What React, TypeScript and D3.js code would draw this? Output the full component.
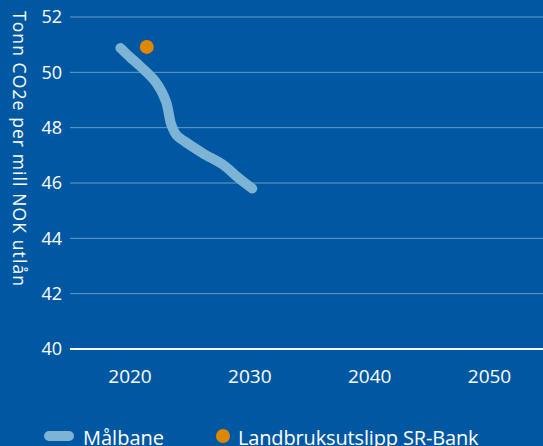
import React from 'react';
import * as d3 from 'd3';

// Målbane (target path) – tonn CO2e per mill NOK utlån
const targetYears = [2019.2, 2020, 2020.85, 2022.2, 2023, 2023.45, 2023.9, 2024.5, 2026.1, 2027.8, 2029, 2030.2];
const targetValues = [50.88, 50.55, 50.22, 49.62, 48.95, 48.1, 47.72, 47.52, 47.07, 46.65, 46.2, 45.8];

// Landbruksutslipp SR-Bank (actual)
const actualYears = [2021.4];
const actualValues = [50.92];

const yTicks = [40, 42, 44, 46, 48, 50, 52];
const xTicks = [2020, 2030, 2040, 2050];

const W = 543;
const H = 446;
const BG = '#0058a3';
const LINE = '#7db4d6';
const DOT = '#e08700';
const FONT = "'Open Sans', sans-serif";

const App: React.FC = () => {
  const x = d3.scaleLinear().domain([2020, 2050]).range([130, 489.5]);
  const y = d3.scaleLinear().domain([40, 52]).range([349, 17]);

  const line = d3
    .line<number>()
    .x((_, i) => x(targetYears[i]))
    .y(d => y(d))
    .curve(d3.curveCatmullRom.alpha(0.5));

  return (
    <svg
      width={W}
      height={H}
      style={{ position: 'fixed', left: 0, top: 0, display: 'block' }}
      fontFamily={FONT}
    >
      <rect width={W} height={H} fill={BG} />

      {/* grid */}
      {yTicks.map(t => (
        <g key={t}>
          <line
            x1={70}
            x2={W}
            y1={y(t)}
            y2={y(t)}
            stroke={t === 40 ? '#ffffff' : 'rgba(255,255,255,0.4)'}
            strokeWidth={t === 40 ? 2 : 1}
          />
          <text
            x={62}
            y={y(t)}
            dy="0.36em"
            textAnchor="end"
            fill="#fff"
            fontSize={18}
          >
            {t}
          </text>
        </g>
      ))}

      {xTicks.map(t => (
        <text key={t} x={x(t)} y={383} textAnchor="middle" fill="#fff" fontSize={19}>
          {t}
        </text>
      ))}

      {/* y axis title */}
      <text
        transform="translate(13,149) rotate(90)"
        textAnchor="middle"
        fill="#fff"
        fontSize={17.5}
        letterSpacing={1.1}
      >
        Tonn CO2e per mill NOK utlån
      </text>

      {/* target path */}
      <path
        d={line(targetValues) || ''}
        fill="none"
        stroke={LINE}
        strokeWidth={10}
        strokeLinecap="round"
        strokeLinejoin="round"
      />

      {actualValues.map((v, i) => (
        <circle key={i} cx={x(actualYears[i])} cy={y(v)} r={7} fill={DOT} />
      ))}

      {/* legend */}
      <line x1={49} x2={69} y1={436} y2={436} stroke={LINE} strokeWidth={10} strokeLinecap="round" />
      <text x={83} y={445} fill="#fff" fontSize={20}>
        Målbane
      </text>
      <circle cx={223} cy={436} r={7} fill={DOT} />
      <text x={238} y={445} fill="#fff" fontSize={20} letterSpacing={-0.15}>
        Landbruksutslipp SR-Bank
      </text>
    </svg>
  );
};

export default App;
